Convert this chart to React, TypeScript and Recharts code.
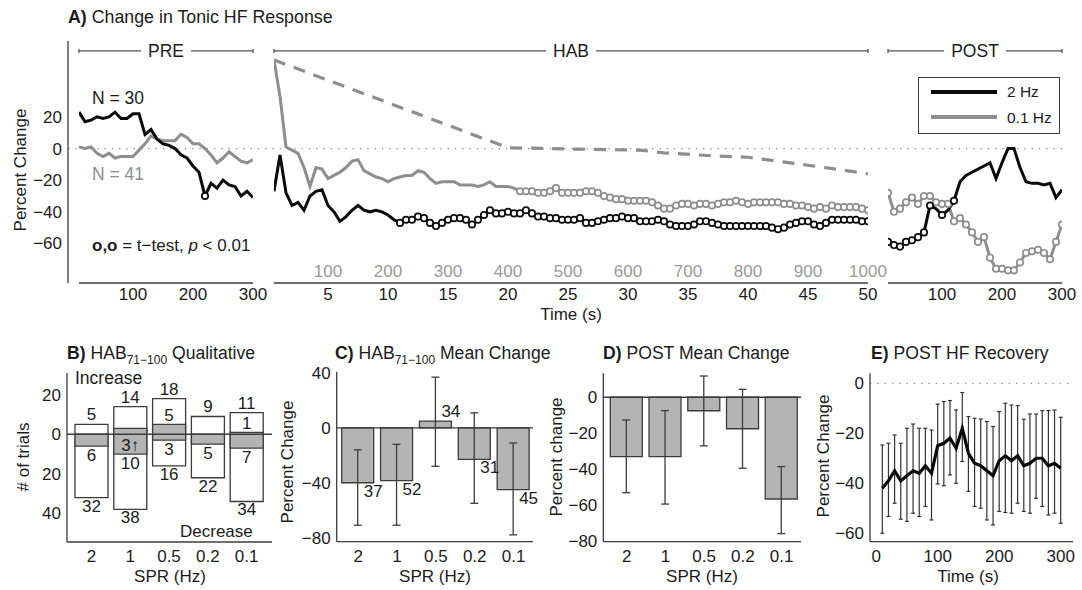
import React from 'react';
import {
  LineChart, Line, XAxis, YAxis, ReferenceLine, BarChart, Bar, ErrorBar, LabelList, Legend,
} from 'recharts';

const FONT = '"Liberation Sans", Arial, Helvetica, sans-serif';
const INK = '#1c1c1c';
const K = '#0a0a0a';
const G = '#8e8e8e';
const AX = '#3c3c3c';
const BARFILL = '#b4b4b4';
const TICK_FS = 17;

// ===== Panel A: change in tonic HF response =====
const preTime = [10, 20, 30, 40, 50, 60, 70, 80, 90, 100, 110, 120, 130, 140, 150, 160, 170, 180, 190, 200, 210, 220, 230, 240, 250, 260, 270, 280, 290, 300];
const pre2Hz = [23, 17, 18, 20, 19, 20, 23, 19, 19, 22, 22, 9, 12, 6, 3, 2, 0, -4, -6, -11, -15, -30, -22, -25, -20, -23, -24, -30, -27, -31];
const pre01Hz = [1, 0, 1, -3, -5, -3, -6, -5, -5, -5, -1, 3, 8, 6, 5, 5, 5, 9, 7, 3, 3, 0, -4, -9, -6, -2, -5, -8, -9, -7];
const pre2HzSigTimes = [220];

const habTime = Array.from({ length: 100 }, (_, i) => (i + 1) * 0.5);
const hab2Hz = [
  -27, -4, -28, -36, -34, -39, -30, -27, -26, -36,
  -40, -46, -43, -39, -36, -39, -40, -39, -40, -42,
  -45, -47, -45, -45, -43, -44, -47, -49, -47, -45,
  -44, -44, -45, -48, -45, -42, -39, -41, -41, -40,
  -41, -41, -39, -41, -43, -43, -44, -44, -45, -45,
  -45, -44, -47, -47, -46, -45, -44, -44, -43, -44,
  -44, -46, -46, -46, -45, -46, -48, -49, -49, -49,
  -48, -46, -46, -47, -48, -49, -49, -49, -49, -49,
  -49, -49, -49, -50, -51, -50, -48, -47, -46, -46,
  -48, -49, -47, -45, -45, -45, -45, -45, -46, -46,
];
const hab01Hz = [
  56, 33, 1, -1, -3, -12, -24, -12, -13, -19,
  -17, -15, -12, -8, -7, -14, -16, -18, -19, -21,
  -19, -18, -17, -17, -14, -15, -19, -22, -21, -21,
  -21, -23, -23, -23, -24, -23, -21, -24, -24, -24,
  -25, -27, -27, -27, -28, -28, -27, -25, -28, -28,
  -28, -28, -27, -27, -28, -30, -31, -32, -32, -33,
  -33, -33, -33, -34, -36, -38, -38, -36, -35, -35,
  -36, -35, -35, -36, -35, -34, -34, -33, -34, -35,
  -34, -34, -34, -34, -34, -35, -35, -36, -36, -37,
  -38, -37, -38, -36, -37, -37, -37, -37, -38, -39,
];
const hab2HzSigFrom = 11;
const hab01HzSigFrom = 21;
const habFitTime = [0.5, 20, 26, 31, 33, 37, 40, 44, 46, 48, 50];
const habFitValue = [56, 0.5, -0.4, -1, -2.7, -4.6, -5.5, -9.5, -11.6, -13.7, -16];
const habTicks = [5, 10, 15, 20, 25, 30, 35, 40, 45, 50];
const habTrialLabels = ['100', '200', '300', '400', '500', '600', '700', '800', '900', '1000'];

const postTime = [10, 20, 30, 40, 50, 60, 70, 80, 90, 100, 110, 120, 130, 140, 150, 160, 170, 180, 190, 200, 210, 220, 230, 240, 250, 260, 270, 280, 290, 300];
const post2Hz = [-59, -61, -62, -59, -58, -56, -53, -36, -38, -42, -39, -33, -21, -17, -15, -13, -11, -9, -19, -9, 0, 0, -12, -21, -22, -22, -23, -22, -31, -26];
const post01Hz = [-28, -40, -38, -34, -31, -35, -30, -30, -34, -35, -35, -46, -44, -48, -53, -59, -56, -69, -76, -76, -77, -77, -72, -66, -65, -64, -66, -70, -59, -48];
const post2HzSigTimes = [10, 20, 30, 40, 50, 60, 70, 80, 100, 120];
const legendOrder = ['2 Hz', '0.1 Hz'];

const aYTicks = [-60, -40, -20, 0, 20];
const preTicks = [100, 200, 300];
const postTicks = [100, 200, 300];

// ===== Panels B-D: SPR frequency =====
const sprCats = ['2', '1', '0.5', '0.2', '0.1'];
const incTotal = [5, 14, 18, 9, 11];
const decTotal = [32, 38, 16, 22, 34];
const incSig = [0, 3, 5, 0, 1];
const decSig = [6, 10, 3, 5, 7];
const incSigLabels = ['', '3\u2191', '5', '', '1'];

const habMean = [-40, -38.5, 5, -23, -45];
const habHi = [-16, -12, 37, 11, -11];
const habLo = [-71, -71, -28, -55, -78];
const habN = [37, 52, 34, 31, 45];

const postMean = [-33, -33, -7.5, -17.5, -56.5];
const postHi = [-12.6, -7.4, 11.8, 4.4, -38.5];
const postLo = [-53, -59.3, -27, -39.4, -75.7];

// ===== Panel E: POST HF recovery =====
const eTime = [10, 20, 30, 40, 50, 60, 70, 80, 90, 100, 110, 120, 130, 140, 150, 160, 170, 180, 190, 200, 210, 220, 230, 240, 250, 260, 270, 280, 290, 300];
const eMean = [-42, -39, -35, -39, -37, -35, -36, -33, -36, -25, -24, -22, -26, -18, -28, -32, -33, -35, -37, -31, -29, -31, -29, -33, -32, -30, -30, -33, -32, -34];
const eHi = [-24.7, -24, -20.7, -24, -18, -16.3, -18, -18, -18.7, -8.3, -7.3, -6.9, -10.7, -3.7, -13.3, -14, -14.3, -15.3, -17.3, -11.3, -8, -8.7, -8.9, -14.4, -12.3, -12.3, -10.9, -10.9, -10.7, -13.6];
const eLo = [-60, -53.3, -48, -54.4, -55.3, -52, -53.3, -49.3, -54.7, -40.3, -41, -36.7, -40, -31.3, -43.3, -49.3, -50, -54.7, -56.7, -51.3, -51.7, -52, -48, -51.3, -52, -46, -49.3, -52.7, -52, -56];

// ---------- derived tables ----------
const preRows = preTime.map((t, i) => ({ t, a: pre2Hz[i], b: pre01Hz[i], sa: pre2HzSigTimes.includes(t), sb: false }));
const habRows = habTime.map((t, i) => ({ t, a: hab2Hz[i], b: hab01Hz[i], sa: t >= hab2HzSigFrom, sb: t >= hab01HzSigFrom }));
const habFitRows = habFitTime.map((t, i) => ({ t, v: habFitValue[i] }));
const postRows = postTime.map((t, i) => ({ t, a: post2Hz[i], b: post01Hz[i], sa: post2HzSigTimes.includes(t), sb: true }));
const bRows = sprCats.map((cat, i) => ({ cat, outer: [-decTotal[i], incTotal[i]], inner: [-decSig[i], incSig[i]] }));
const cRows = sprCats.map((cat, i) => ({ cat, m: habMean[i], err: [habMean[i] - habLo[i], habHi[i] - habMean[i]] }));
const dRows = sprCats.map((cat, i) => ({ cat, m: postMean[i], err: [postMean[i] - postLo[i], postHi[i] - postMean[i]] }));
const eRows = eTime.map((t, i) => ({ t, m: eMean[i], err: [eMean[i] - eLo[i], eHi[i] - eMean[i]] }));

const A_DOMAIN: [number, number] = [-85, 68];
const BRACKET_Y = 61.7;

const minusFmt = (v: number) => (v < 0 ? '\u2212' + Math.abs(v) : String(v));
const tickStyle = { fontSize: TICK_FS, fill: INK, fontFamily: FONT };
const axisLine = { stroke: AX, strokeWidth: 1.3 };

const makeDot = (color: string, key: 'sa' | 'sb') => (p: any) => {
  if (!p.payload || !p.payload[key]) return <g key={`e${key}${p.index}`} />;
  return <circle key={`d${key}${p.index}`} cx={p.cx} cy={p.cy} r={3.2} fill="#fff" stroke={color} strokeWidth={1.7} />;
};

const bracketLabel = (text: string, gap: number) => (props: any) => {
  const vb = props.viewBox || {};
  const cx = vb.x + (vb.width || 0) / 2;
  const cy = vb.y + (vb.height || 0) / 2;
  return (
    <g>
      <rect x={cx - gap / 2} y={cy - 4} width={gap} height={8} fill="#fff" />
      <text x={cx} y={cy} dy="0.36em" textAnchor="middle" fontSize={17.5} fill={INK} fontFamily={FONT}>{text}</text>
    </g>
  );
};

const bracket = (x1: number, x2: number, text: string, gap: number) => [
  <ReferenceLine key={`bm${text}`} segment={[{ x: x1, y: BRACKET_Y }, { x: x2, y: BRACKET_Y }]} stroke="#555" strokeWidth={1.3} label={bracketLabel(text, gap)} />,
  <ReferenceLine key={`bl${text}`} segment={[{ x: x1, y: BRACKET_Y - 1.3 }, { x: x1, y: BRACKET_Y + 1.3 }]} stroke="#555" strokeWidth={1.3} />,
  <ReferenceLine key={`br${text}`} segment={[{ x: x2, y: BRACKET_Y - 1.3 }, { x: x2, y: BRACKET_Y + 1.3 }]} stroke="#555" strokeWidth={1.3} />,
];

const HabTick = (props: any) => {
  const { x, y, payload, index } = props;
  return (
    <g>
      <text x={x} y={y} dy="0.71em" textAnchor="middle" fontSize={TICK_FS} fill={INK} fontFamily={FONT}>{payload.value}</text>
      <text x={x} y={y - 23.5} dy="0.71em" textAnchor="middle" fontSize={TICK_FS} fill="#9a9a9a" fontFamily={FONT}>{habTrialLabels[index]}</text>
    </g>
  );
};

const legendContent = (props: any) => {
  const items = [...(props.payload || [])].sort(
    (p: any, q: any) => legendOrder.indexOf(p.value) - legendOrder.indexOf(q.value),
  );
  return (
    <div style={{ width: 142, height: 57, boxSizing: 'border-box', border: `1.5px solid ${AX}`, background: '#fff', paddingTop: 1 }}>
      {items.map((it: any, i: number) => (
        <div key={i} style={{ display: 'flex', alignItems: 'center', height: 25.6, paddingLeft: 12 }}>
          <svg width={66} height={8} style={{ display: 'block' }}>
            <line x1={0} y1={4} x2={66} y2={4} stroke={it.color} strokeWidth={4} />
          </svg>
          <span style={{ marginLeft: 10, fontSize: 15.5, color: INK, fontFamily: FONT, lineHeight: 1 }}>{it.value}</span>
        </div>
      ))}
    </div>
  );
};

function T(props: { x: number; y: number; children: any; size?: number; anchor?: 'start' | 'middle'; color?: string; rotate?: boolean; weight?: any }) {
  const { x, y, children, size = 17, anchor = 'middle', color = INK, rotate = false, weight } = props;
  const tx = anchor === 'middle' ? '-50%' : '0';
  const transform = rotate ? 'translate(-50%,-50%) rotate(-90deg)' : `translate(${tx},-50%)`;
  return (
    <div style={{ position: 'absolute', left: x, top: y, transform, fontSize: size, lineHeight: 1, color, whiteSpace: 'nowrap', fontFamily: FONT, fontWeight: weight }}>
      {children}
    </div>
  );
}

const Sub = ({ children }: any) => (
  <span style={{ fontSize: 12, position: 'relative', top: 5 }}>{children}</span>
);

const A_MARGIN = { top: 41, bottom: 7, left: 40, right: 40 };

function PanelA() {
  return (
    <>
      <div style={{ position: 'absolute', left: 0, top: 0 }}>
        <LineChart width={1082} height={320} data={preRows} margin={{ top: 41, right: 20, bottom: 37, left: 8 }}>
          <XAxis dataKey="t" type="number" domain={[10, 300]} hide />
          <YAxis width={60} type="number" domain={A_DOMAIN} allowDataOverflow ticks={aYTicks} interval={0}
            tickFormatter={minusFmt} tick={tickStyle} tickLine={false} tickSize={3} tickMargin={3} axisLine={axisLine} />
          <ReferenceLine y={0} stroke="#8a8a8a" strokeWidth={1.3} strokeDasharray="1.3 6" />
        </LineChart>
      </div>

      <div style={{ position: 'absolute', left: 39, top: 0 }}>
        <LineChart width={254} height={320} data={preRows} margin={A_MARGIN}>
          <XAxis dataKey="t" type="number" domain={[10, 300]} allowDataOverflow ticks={preTicks} interval={0} height={30}
            tick={tickStyle} tickLine={false} tickSize={3} tickMargin={2} axisLine={axisLine} />
          <YAxis hide type="number" domain={A_DOMAIN} allowDataOverflow />
          {bracket(10, 300, 'PRE', 50)}
          <Line dataKey="b" stroke={G} strokeWidth={3} dot={makeDot(G, 'sb')} isAnimationActive={false} />
          <Line dataKey="a" stroke={K} strokeWidth={3} dot={makeDot(K, 'sa')} isAnimationActive={false} />
        </LineChart>
      </div>

      <div style={{ position: 'absolute', left: 234, top: 0 }}>
        <LineChart width={674} height={320} data={habRows} margin={A_MARGIN}>
          <XAxis dataKey="t" type="number" domain={[0.5, 50]} allowDataOverflow ticks={habTicks} interval={0} height={30}
            tick={<HabTick />} tickLine={false} tickSize={3} tickMargin={2} axisLine={axisLine} />
          <YAxis hide type="number" domain={A_DOMAIN} allowDataOverflow />
          {bracket(0.5, 50, 'HAB', 50)}
          <Line data={habFitRows} dataKey="v" stroke={G} strokeWidth={3.2} strokeDasharray="12 9" dot={false} isAnimationActive={false} />
          <Line dataKey="b" stroke={G} strokeWidth={3} dot={makeDot(G, 'sb')} isAnimationActive={false} />
          <Line dataKey="a" stroke={K} strokeWidth={3} dot={makeDot(K, 'sa')} isAnimationActive={false} />
        </LineChart>
      </div>

      <div style={{ position: 'absolute', left: 848, top: 0 }}>
        <LineChart width={254} height={320} data={postRows} margin={A_MARGIN}>
          <XAxis dataKey="t" type="number" domain={[10, 300]} allowDataOverflow ticks={postTicks} interval={0} height={30}
            tick={tickStyle} tickLine={false} tickSize={3} tickMargin={2} axisLine={axisLine} />
          <YAxis hide type="number" domain={A_DOMAIN} allowDataOverflow />
          {bracket(10, 300, 'POST', 62)}
          <Line name="0.1 Hz" dataKey="b" stroke={G} strokeWidth={3} dot={makeDot(G, 'sb')} isAnimationActive={false} />
          <Line name="2 Hz" dataKey="a" stroke={K} strokeWidth={3} dot={makeDot(K, 'sa')} isAnimationActive={false} />
          <Legend layout="vertical" align="center" verticalAlign="middle" content={legendContent}
            wrapperStyle={{ left: 70, top: 77, width: 142, height: 57 }} />
        </LineChart>
      </div>
    </>
  );
}

const outerLabels = (p: any) => {
  const x = Number(p.x), y = Number(p.y), w = Number(p.width), h = Number(p.height);
  const top = Math.min(y, y + h), bottom = Math.max(y, y + h), cx = x + w / 2, i = p.index;
  return (
    <g key={`ob${i}`}>
      <text x={cx} y={top - 4} textAnchor="middle" fontSize={TICK_FS} fill={INK} fontFamily={FONT}>{incTotal[i]}</text>
      <text x={cx} y={bottom + 14} textAnchor="middle" fontSize={TICK_FS} fill={INK} fontFamily={FONT}>{decTotal[i]}</text>
    </g>
  );
};

const innerLabels = (p: any) => {
  const x = Number(p.x), y = Number(p.y), w = Number(p.width), h = Number(p.height);
  const top = Math.min(y, y + h), bottom = Math.max(y, y + h), cx = x + w / 2, i = p.index;
  const inc = incSigLabels[i];
  const inside = inc.indexOf('\u2191') >= 0;
  return (
    <g key={`ib${i}`}>
      {inc ? (
        <text x={cx} y={inside ? bottom - 3 : top - 3.5} textAnchor="middle" fontSize={TICK_FS} fill={INK} fontFamily={FONT}>{inc}</text>
      ) : null}
      <text x={cx} y={bottom + 15} textAnchor="middle" fontSize={TICK_FS} fill={INK} fontFamily={FONT}>{decSig[i]}</text>
    </g>
  );
};

function PanelB() {
  return (
    <div style={{ position: 'absolute', left: 0, top: 330 }}>
      <BarChart width={290} height={260} data={bRows} margin={{ top: 43, right: 18, bottom: 18, left: 27 }}>
        <XAxis xAxisId="a" dataKey="cat" padding={{ left: 5, right: 6 }} height={30} interval={0}
          tick={tickStyle} tickLine={false} tickSize={3} tickMargin={5} axisLine={axisLine} />
        <XAxis xAxisId="b" dataKey="cat" padding={{ left: 5, right: 6 }} hide />
        <YAxis width={40} type="number" domain={[-54.5, 31]} allowDataOverflow ticks={[-40, -20, 0, 20]} interval={0}
          tickFormatter={(v: number) => String(Math.abs(v))} tick={tickStyle} tickLine={false} tickSize={3} tickMargin={3} axisLine={axisLine} />
        <Bar xAxisId="a" dataKey="outer" fill="#fff" stroke={AX} strokeWidth={1.3} barSize={33} isAnimationActive={false}>
          <LabelList dataKey="outer" content={outerLabels} />
        </Bar>
        <Bar xAxisId="b" dataKey="inner" fill={BARFILL} stroke={AX} strokeWidth={1.3} barSize={33} isAnimationActive={false}>
          <LabelList dataKey="inner" content={innerLabels} />
        </Bar>
        <ReferenceLine xAxisId="a" y={0} stroke={AX} strokeWidth={1.3} />
      </BarChart>
    </div>
  );
}

const nLabels = (p: any) => {
  const x = Number(p.x), y = Number(p.y), w = Number(p.width), h = Number(p.height);
  const top = Math.min(y, y + h), bottom = Math.max(y, y + h), i = p.index;
  const cx = x + w / 2;
  const neg = habMean[i] < 0;
  return (
    <text key={`n${i}`} x={cx + 6} y={neg ? bottom + 14 : top - 4} textAnchor="start" fontSize={TICK_FS} fill={INK} fontFamily={FONT}>{habN[i]}</text>
  );
};

function PanelC() {
  return (
    <div style={{ position: 'absolute', left: 290, top: 330 }}>
      <BarChart width={263} height={260} data={cRows} margin={{ top: 41.7, right: 20, bottom: 18.3, left: 6.7 }}>
        <XAxis dataKey="cat" padding={{ left: 2, right: 0 }} height={30} interval={0}
          tick={tickStyle} tickLine={false} tickSize={3} tickMargin={5} axisLine={axisLine} />
        <YAxis width={40} type="number" domain={[-83, 41]} allowDataOverflow ticks={[-80, -40, 0, 40]} interval={0}
          tickFormatter={minusFmt} tick={tickStyle} tickLine={false} tickSize={3} tickMargin={3} axisLine={axisLine} />
        <Bar dataKey="m" fill={BARFILL} stroke={AX} strokeWidth={1.3} barSize={32} isAnimationActive={false}>
          <ErrorBar dataKey="err" width={4} stroke={AX} strokeWidth={1.3} direction="y" isAnimationActive={false} />
          <LabelList dataKey="m" content={nLabels} />
        </Bar>
        <ReferenceLine y={0} stroke={AX} strokeWidth={1.3} />
      </BarChart>
    </div>
  );
}

function PanelD() {
  return (
    <div style={{ position: 'absolute', left: 556, top: 330 }}>
      <BarChart width={265} height={260} data={dRows} margin={{ top: 43.3, right: 20, bottom: 18.3, left: 7.3 }}>
        <XAxis dataKey="cat" padding={{ left: 4, right: 0 }} height={30} interval={0}
          tick={tickStyle} tickLine={false} tickSize={3} tickMargin={5} axisLine={axisLine} />
        <YAxis width={40} type="number" domain={[-80.2, 13.3]} allowDataOverflow ticks={[-80, -60, -40, -20, 0]} interval={0}
          tickFormatter={minusFmt} tick={tickStyle} tickLine={false} tickSize={3} tickMargin={3} axisLine={axisLine} />
        <Bar dataKey="m" fill={BARFILL} stroke={AX} strokeWidth={1.3} barSize={32} isAnimationActive={false}>
          <ErrorBar dataKey="err" width={4} stroke={AX} strokeWidth={1.3} direction="y" isAnimationActive={false} />
        </Bar>
        <ReferenceLine y={0} stroke={AX} strokeWidth={1.3} />
      </BarChart>
    </div>
  );
}

function PanelE() {
  return (
    <div style={{ position: 'absolute', left: 820, top: 330 }}>
      <LineChart width={262} height={260} data={eRows} margin={{ top: 43.3, right: 9, bottom: 18.3, left: 10 }}>
        <XAxis dataKey="t" type="number" domain={[-10, 320]} allowDataOverflow ticks={[0, 100, 200, 300]} interval={0} height={30}
          tick={tickStyle} tickLine={false} tickSize={3} tickMargin={5} axisLine={axisLine} />
        <YAxis width={40} type="number" domain={[-63.4, 4]} allowDataOverflow ticks={[-60, -40, -20, 0]} interval={0}
          tickFormatter={minusFmt} tick={tickStyle} tickLine={false} tickSize={3} tickMargin={3} axisLine={axisLine} />
        <ReferenceLine y={0} stroke="#8a8a8a" strokeWidth={1.3} strokeDasharray="1.3 6" />
        <Line dataKey="m" stroke={K} strokeWidth={3.2} dot={false} isAnimationActive={false}>
          <ErrorBar dataKey="err" width={2} stroke="#333" strokeWidth={1.2} direction="y" isAnimationActive={false} />
        </Line>
      </LineChart>
    </div>
  );
}

export default function App() {
  return (
    <div style={{ position: 'absolute', left: 0, top: 0, width: 1082, height: 590, background: '#fff', overflow: 'hidden', fontFamily: FONT }}>
      <PanelA />
      <PanelB />
      <PanelC />
      <PanelD />
      <PanelE />

      <T x={68} y={18} anchor="start" size={17.8}><b>A)</b> Change in Tonic HF Response</T>
      <T x={20} y={170} rotate>Percent Change</T>
      <T x={92} y={98.5} anchor="start" size={17.5}>N = 30</T>
      <T x={92} y={175} anchor="start" size={17.5} color={G}>N = 41</T>
      <T x={92} y={244.5} anchor="start" size={17}><b>o,o</b> = t{'\u2212'}test, <i>p</i> &lt; 0.01</T>
      <T x={571} y={314}>Time (s)</T>

      <T x={67} y={354} anchor="start" size={17.6}><b>B)</b> HAB<Sub>71{'\u2212'}100</Sub> Qualitative</T>
      <T x={335} y={354} anchor="start" size={17.6}><b>C)</b> HAB<Sub>71{'\u2212'}100</Sub> Mean Change</T>
      <T x={603} y={354} anchor="start" size={17.6}><b>D)</b> POST Mean Change</T>
      <T x={871} y={354} anchor="start" size={17.6}><b>E)</b> POST HF Recovery</T>

      <T x={75} y={379} anchor="start" size={17.5}>Increase</T>
      <T x={180} y={531} anchor="start" size={17}>Decrease</T>
      <T x={23} y={457} rotate># of trials</T>
      <T x={287} y={462} rotate>Percent Change</T>
      <T x={555.5} y={457} rotate>Percent change</T>
      <T x={823} y={456} rotate>Percent Change</T>

      <T x={170} y={576}>SPR (Hz)</T>
      <T x={435} y={576}>SPR (Hz)</T>
      <T x={702} y={576}>SPR (Hz)</T>
      <T x={968} y={576}>Time (s)</T>
    </div>
  );
}
